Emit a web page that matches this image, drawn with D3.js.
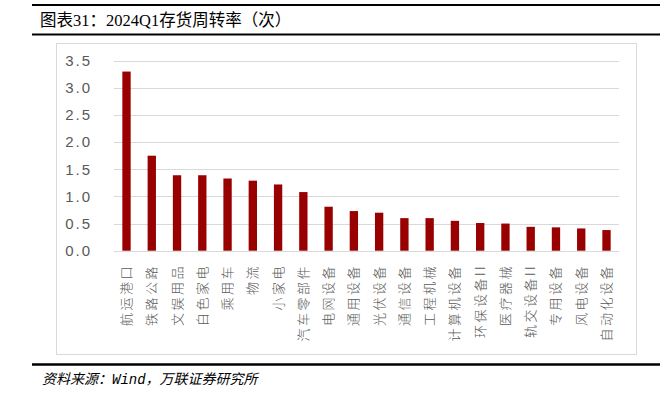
<!DOCTYPE html>
<html>
<head>
<meta charset="utf-8">
<script src="https://cdn.jsdelivr.net/npm/d3@7"></script>
<style>
  body { margin: 0; background: #fff; }
  svg { display: block; }
</style>
</head>
<body>
<div id="chart"></div>
<script>
// Data
const categories = ["航运港口", "铁路公路", "文娱用品", "白色家电", "乘用车", "物流", "小家电", "汽车零部件",
    "电网设备", "通用设备", "光伏设备", "通信设备", "工程机械", "计算机设备", "环保设备II", "医疗器械",
    "轨交设备II", "专用设备", "风电设备", "自动化设备"];
const turnover = [3.30, 1.75, 1.39, 1.39, 1.33, 1.29, 1.22, 1.08, 0.81, 0.73, 0.70, 0.60, 0.60, 0.55,
    0.51, 0.50, 0.44, 0.43, 0.41, 0.38];
const yTicks = [0, 0.5, 1.0, 1.5, 2.0, 2.5, 3.0, 3.5];

const width = 660, height = 397;
const svg = d3.select("#chart").append("svg")
    .attr("width", width)
    .attr("height", height);

// Title and rules
svg.append("line").attr("x1", 32).attr("x2", 660).attr("y1", 5).attr("y2", 5)
    .attr("stroke", "#000").attr("stroke-width", 2);
svg.append("text")
    .attr("x", 40).attr("y", 26)
    .attr("font-family", "'Liberation Serif', 'Noto Sans CJK SC', serif")
    .attr("font-size", 16.5)
    .attr("fill", "#000")
    .text("图表31：2024Q1存货周转率（次）");
svg.append("line").attr("x1", 32).attr("x2", 660).attr("y1", 34.5).attr("y2", 34.5)
    .attr("stroke", "#000").attr("stroke-width", 2);

// Chart frame
svg.append("rect")
    .attr("x", 56.5).attr("y", 43.5).attr("width", 580).attr("height", 311)
    .attr("fill", "none").attr("stroke", "#d9d9d9").attr("stroke-width", 1);

const xScale = d3.scaleBand()
    .domain(categories)
    .range([114, 619])
    .paddingInner(0.67)
    .paddingOuter(0.33);

const yScale = d3.scaleLinear()
    .domain([0, 3.5])
    .range([250.7, 60.7]);

// Gridlines
svg.append("g")
    .selectAll("line")
    .data(yTicks)
    .enter()
    .append("line")
    .attr("x1", 114).attr("x2", 619)
    .attr("y1", d => Math.round(yScale(d)) + 0.5)
    .attr("y2", d => Math.round(yScale(d)) + 0.5)
    .attr("stroke", "#d9d9d9")
    .attr("stroke-width", 1);

// Y-axis labels
const yAxis = d3.axisLeft(yScale)
    .tickValues(yTicks)
    .tickFormat(d3.format(".1f"))
    .tickSize(0)
    .tickPadding(0);
const yAxisG = svg.append("g")
    .attr("transform", "translate(92,0)")
    .call(yAxis);
yAxisG.select(".domain").remove();
yAxisG.selectAll("text")
    .attr("font-family", "'Liberation Sans', Arial, sans-serif")
    .attr("font-size", 15)
    .attr("letter-spacing", 2)
    .attr("fill", "#595959");

// Bars
svg.selectAll("rect.bar")
    .data(categories.map((c, i) => ({ name: c, value: turnover[i] })))
    .enter()
    .append("rect")
    .attr("class", "bar")
    .attr("x", d => xScale(d.name))
    .attr("y", d => yScale(d.value))
    .attr("width", xScale.bandwidth())
    .attr("height", d => yScale(0) - yScale(d.value))
    .attr("fill", "#990000");

// Category labels, rotated -90 and hanging from just under the axis
svg.append("g")
    .selectAll("text")
    .data(categories)
    .enter()
    .append("text")
    .attr("transform", d => `translate(${xScale(d) + xScale.bandwidth() / 2 - 1},264) rotate(-90)`)
    .attr("text-anchor", "end")
    .attr("dominant-baseline", "central")
    .attr("font-family", "'Noto Sans CJK SC', sans-serif")
    .attr("font-weight", 300)
    .attr("font-size", 13)
    .attr("letter-spacing", 2.5)
    .attr("fill", "#595959")
    .text(d => d);

// Footer
svg.append("line").attr("x1", 32).attr("x2", 660).attr("y1", 364.5).attr("y2", 364.5)
    .attr("stroke", "#000").attr("stroke-width", 2.5);
svg.append("text")
    .attr("x", 42).attr("y", 384)
    .attr("font-family", "'Liberation Mono', 'Noto Sans CJK SC', monospace")
    .attr("font-style", "italic")
    .attr("font-size", 14)
    .attr("fill", "#000")
    .text("资料来源：Wind，万联证券研究所");
</script>
</body>
</html>
